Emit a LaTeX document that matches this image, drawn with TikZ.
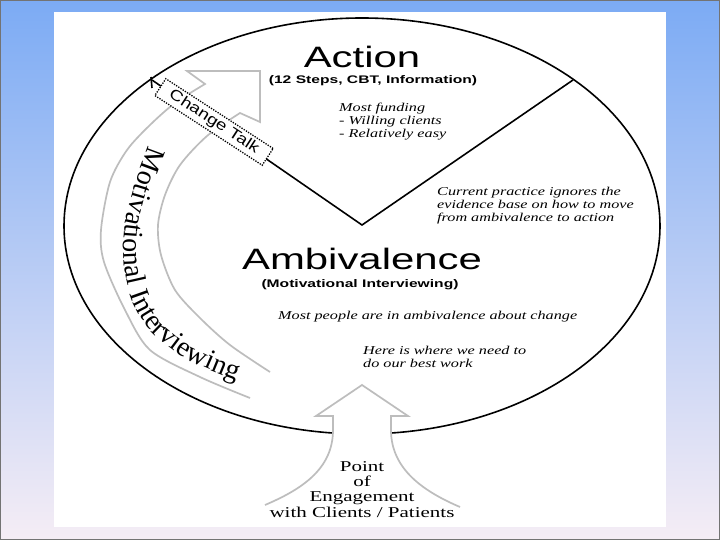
\documentclass[tikz,border=0pt]{standalone}
\usepackage{fontspec}
\setmainfont{Liberation Serif}
\newfontfamily\sansx{Liberation Sans}[FakeStretch=1.42]
\newfontfamily\sanst{Liberation Sans}[FakeStretch=1.25]
\newfontfamily\serifx{Liberation Serif}[FakeStretch=1.4]
\newfontfamily\annot{Liberation Serif}[FakeStretch=1.35]
\usetikzlibrary{decorations.text}
\definecolor{bgtop}{HTML}{7CABF4}
\definecolor{bgmid}{HTML}{B3CDF2}
\definecolor{bgbot}{HTML}{F5EDF5}
\definecolor{arrowgray}{HTML}{BDBDBD}
\begin{document}
\begin{tikzpicture}[x=1pt,y=-1pt,
  blackline/.style={line width=1.6pt, draw=black},
  grayarrow/.style={draw=arrowgray, line width=1.7pt, line join=miter},
  notetext/.style={font=\annot\itshape\fontsize{12}{13}\selectfont, inner sep=0pt, align=left, anchor=north west},
  bigtitle/.style={font=\sansx\fontsize{29.5}{30}\selectfont, inner sep=0pt, anchor=base},
  subtitle/.style={font=\sansx\bfseries\fontsize{11}{12}\selectfont, inner sep=0pt, anchor=base},
  talkbox/.style={draw=black, fill=white, line width=1.3pt, dash pattern=on 1.3pt off 1.3pt, inner sep=0pt, minimum width=128, minimum height=20, font=\sanst\fontsize{15}{15}\selectfont},
  engtext/.style={font=\serifx\fontsize{15}{15.4}\selectfont, inner sep=0pt, align=center, anchor=north}]
\useasboundingbox (0,0) rectangle (720,540);
% background
\shade[top color=bgtop, middle color=bgmid, bottom color=bgbot] (0,0) rectangle (720,540);
\draw[line width=1.4pt, draw=black!55] (0.7,0.7) rectangle (719.3,539.3);
\fill[white] (54,12) rectangle (666,527);
% ellipse
\draw[blackline] (362,226) ellipse [x radius=298, y radius=208];
% V line
\coordinate (vl) at (152,80);
\coordinate (vv) at (362,225);
\coordinate (vr) at (573,80);
\coordinate (tka) at (151,77);
\coordinate (tkb) at (152,88);
\draw[blackline, line join=miter] (vl) -- (vv) -- (vr);
\draw[blackline] (tka) -- (tkb);
% curved arrow
\coordinate (b1) at (187,71);
\coordinate (tip) at (260,71);
\coordinate (b2) at (260,122);
\def\miarrow{plot[smooth] coordinates {(250,398) (200,377) (150,350) (125,310) (104,262) (101,230) (110,182) (127,150) (150,125) (175,103) (205,84)} -- (b1) -- (tip) -- (b2) -- plot[smooth] coordinates {(240,113) (207,136) (180,165) (165,195) (158,225) (161,255) (175,290) (200,318) (230,345) (270,372)}}
\fill[white] \miarrow -- cycle;
\draw[grayarrow] \miarrow;
\path[decorate, decoration={text along path, text align={left}, text={|\fontsize{28}{28}\selectfont|Motivational Interviewing}}]
  plot[smooth] coordinates {(149,146) (135,185) (125,225) (124,265) (132,300) (150,330) (180,355) (215,372) (250,385)};
% change talk box
\node[talkbox, rotate=-33] (ct) at (214,122) {Change Talk};
% bottom arrow
\def\engarrow{(265,505) .. controls (300,490) and (333,470) .. (333,430) -- (333,416) -- (316,416) -- (362,385) -- (408,416) -- (391,416) -- (391,430) .. controls (391,470) and (425,492) .. (460,507)}
\fill[white] \engarrow -- cycle;
\draw[grayarrow] \engarrow;
% texts
\node[bigtitle] (action) at (362,68) {Action};
\node[subtitle] (actsub) at (373,84) {(12 Steps, CBT, Information)};
\node[notetext] (fund) at (339,103) {Most funding\\- Willing clients\\- Relatively easy};
\node[notetext] (curr) at (437,187) {Current practice ignores the\\evidence base on how to move\\from ambivalence to action};
\node[bigtitle] (amb) at (362,269) {Ambivalence};
\node[subtitle] (ambsub) at (360,287) {(Motivational Interviewing)};
\node[notetext] (most) at (278,311) {Most people are in ambivalence about change};
\node[notetext] (here) at (363,346) {Here is where we need to\\do our best work};
\node[engtext] (eng) at (362,461) {Point\\of\\Engagement\\with Clients / Patients};
\end{tikzpicture}
\end{document}
